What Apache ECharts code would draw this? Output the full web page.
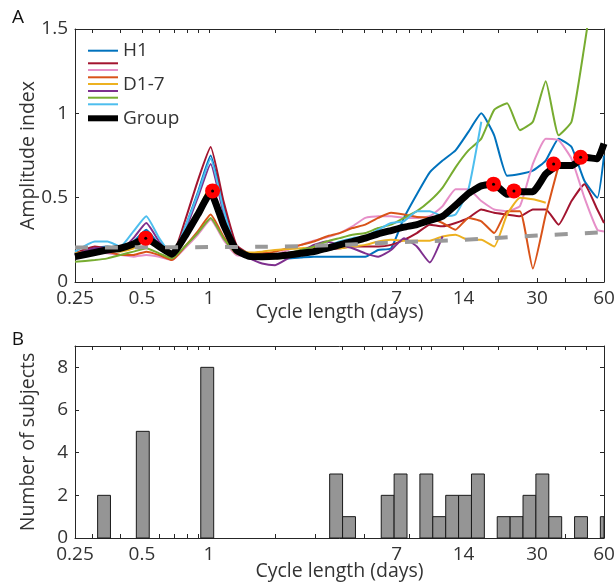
<!DOCTYPE html>
<html><head><meta charset="utf-8">
<script src="https://cdn.jsdelivr.net/npm/echarts@6/dist/echarts.min.js"></script>
<style>html,body{margin:0;padding:0;background:#fff}#c{width:616px;height:585px}</style>
</head><body><div id="c"></div>
<script>
// ---------- DATA ----------
const days = [0.25,0.307,0.350,0.400,0.458,0.523,0.598,0.683,0.780,0.892,1.019,1.164,1.331,1.522,1.738,1.987,2.271,2.596,2.967,3.390,3.874,4.428,5.060,5.783,6.609,7.553,8.632,9.865,11.27,12.89,14.73,16.83,19.23,21.98,25.12,28.71,32.81,37.50,42.86,48.98,55.98,60];

const groupVals = [0.15,0.175,0.19,0.20,0.225,0.26,0.21,0.165,0.27,0.40,0.53,0.34,0.19, 0.152,0.15,0.152,0.16,0.17,0.18,0.20,0.22,0.24, 0.26,0.285,0.305,0.325,0.34,0.365,0.39,0.455,0.525, 0.57,0.58,0.52,0.535,0.535,0.64,0.69,0.69,0.74,0.73,0.82];
const h1Vals = [0.17,0.20,0.21,0.20,0.24,0.31,0.22,0.15,0.32,0.53,0.75,0.45,0.19, 0.15,0.148,0.145,0.14,0.145,0.15,0.15,0.15,0.15, 0.15,0.19,0.20,0.38,0.52,0.65,0.72,0.78,0.89, 1.0,0.87,0.63,0.64,0.66,0.72,0.85,0.80,0.60,0.50,0.75];
const d1Vals = [0.17,0.21,0.20,0.20,0.22,0.27,0.21,0.16,0.36,0.60,0.80,0.48,0.22, 0.17,0.17,0.165,0.165,0.17,0.18,0.19,0.20,0.21, 0.21,0.21,0.22,0.25,0.29,0.34,0.33,0.35,0.38, 0.43,0.41,0.40,0.39,0.43,0.43,0.34,0.48,0.58,0.43,0.35];
const d2Vals = [0.16,0.18,0.17,0.16,0.15,0.16,0.15,0.13,0.20,0.28,0.37,0.25,0.16, 0.155,0.155,0.16,0.19,0.22,0.245,0.265,0.29,0.33, 0.38,0.39,0.39,0.38,0.38,0.39,0.45,0.55,0.55, 0.48,0.43,0.42,0.45,0.70,0.85,0.84,0.73,0.50,0.31,0.30];
const d3Vals = [0.16,0.18,0.18,0.16,0.16,0.18,0.16,0.13,0.21,0.30,0.40,0.27,0.17, 0.17,0.17,0.18,0.20,0.22,0.24,0.27,0.29,0.32, 0.34,0.38,0.41,0.40,0.385,0.38,0.35,0.31,0.38, 0.36,0.29,0.42,0.42,0.08,0.40,0.69,null,null,null,null];
const d4Vals = [0.17,0.19,0.19,0.18,0.20,0.25,0.20,0.15,0.27,0.42,0.57,0.36,0.20, 0.175,0.18,0.19,0.195,0.20,0.205,0.205,0.20,0.21, 0.22,0.24,0.25,0.245,0.245,0.245,0.27,0.28,0.25, 0.25,0.21,0.40,0.50,0.49,0.47,null,null,null,null,null];
const d5Vals = [0.16,0.20,0.20,0.19,0.26,0.35,0.24,0.15,0.30,0.50,0.70,0.41,0.18, 0.14,0.11,0.10,0.14,0.18,0.22,0.24,0.22,0.20, 0.17,0.15,0.19,0.26,0.21,0.115,0.27,null,null, null,null,null,null,null,null,null,null,null,null,null];
const d6Vals = [0.12,0.13,0.14,0.16,0.18,0.20,0.17,0.14,0.21,0.29,0.38,0.26,0.17, 0.16,0.155,0.16,0.17,0.19,0.21,0.24,0.26,0.28, 0.29,0.32,0.34,0.38,0.42,0.48,0.56,0.68,0.78, 0.85,1.02,1.06,0.90,0.95,1.19,0.87,0.95,1.40,1.9,2.1];
const d7Vals = [0.18,0.24,0.24,0.21,0.30,0.39,0.26,0.16,0.32,0.52,0.73,0.43,0.19, 0.155,0.155,0.16,0.17,0.18,0.19,0.21,0.24,0.26, 0.27,0.31,0.35,0.36,0.42,0.42,0.39,0.40,0.55, 0.95,null,null,null,null,null,null,null,null,null,null];

const threshDays = [0.25,1,3,7,14,30,60];
const threshVals = [0.205,0.207,0.215,0.235,0.25,0.275,0.295];

const peakDays = [0.52,1.04,19.1,23.6,35.6,47.1];
const peakVals = [0.26,0.54,0.58,0.54,0.70,0.74];

const binLo = [0.316,0.472,0.920,3.498,3.998,5.968,6.82,8.908,10.18,11.64,13.30,15.20,19.85,22.69,25.93,29.63,33.87,44.23,57.77];
const binHi = [0.361,0.5395,1.052,3.998,4.57,6.82,7.795,10.18,11.64,13.30,15.20,17.37,22.69,25.93,29.63,33.87,38.7,50.55,66.0];
const counts = [2,5,8,3,1,2,3,3,1,2,2,3,1,1,2,3,1,1,1];

const xLabelVals = [0.25,0.5,1,7,14,30,60];
const xTickVals = [0.25,0.3,0.4,0.5,0.6,0.7,0.8,0.9,1,2,3,4,5,6,7,8,9,10,14,20,30,40,50,60];
const yTicksA = [0,0.5,1,1.5];
const yTicksB = [0,2,4,6,8];

const subjNames = ['H1','D1','D2','D3','D4','D5','D6','D7'];
const subjVals = [h1Vals,d1Vals,d2Vals,d3Vals,d4Vals,d5Vals,d6Vals,d7Vals];
const subjColors = ['#0072BD','#A2142F','#E68FC8','#D95319','#EDB120','#7E2F8E','#77AC30','#4DBEEE'];

// ---------- CHART ----------
const FONT = '"Open Sans", sans-serif';
const TXT = '#333333';
const AX = '#262626';
const chart = echarts.init(document.getElementById('c'), null, {renderer:'canvas'});

function xAxisDef(grid, pos, withLabels) {
  return {
    gridIndex: grid, type: 'log', logBase: 10, min: 0.25, max: 60, position: pos,
    axisLine: {show: true, onZero: false, lineStyle: {color: AX, width: 1}},
    axisTick: {show: true, inside: true, length: 4, customValues: xTickVals, lineStyle: {color: AX, width: 1}},
    axisLabel: {show: withLabels, customValues: xLabelVals, formatter: v => String(v), margin: 7,
      color: TXT, fontSize: 19, fontFamily: FONT},
    splitLine: {show: false}, minorTick: {show: false},
    name: withLabels ? 'Cycle length (days)' : '', nameLocation: 'middle', nameMoveOverlap: false,
    nameGap: withLabels ? (grid === 0 ? 20 : 23.5) : 0,
    nameTextStyle: {color: TXT, fontSize: 19.5, fontFamily: FONT}
  };
}
function yAxisDef(grid, pos, withLabels, min, max, ticks, name) {
  return {
    gridIndex: grid, type: 'value', min: min, max: max, position: pos,
    axisLine: {show: true, onZero: false, lineStyle: {color: AX, width: 1}},
    axisTick: {show: true, inside: true, length: 4, customValues: ticks, lineStyle: {color: AX, width: 1}},
    axisLabel: {show: withLabels, customValues: ticks, formatter: v => String(v), margin: 7,
      color: TXT, fontSize: 19, fontFamily: FONT},
    splitLine: {show: false},
    name: withLabels ? name : '', nameLocation: 'middle', nameMoveOverlap: false, nameGap: 37,
    nameTextStyle: {color: TXT, fontSize: 19.5, fontFamily: FONT}
  };
}

const series = [];
subjNames.forEach((nm, k) => {
  series.push({
    name: nm, type: 'line', xAxisIndex: 0, yAxisIndex: 0,
    data: days.map((d, i) => [d, subjVals[k][i]]).filter(p => p[1] !== null),
    showSymbol: false, smooth: 0.15, clip: true, z: 2,
    lineStyle: {color: subjColors[k], width: 2}, itemStyle: {color: subjColors[k]},
    animation: false
  });
});
series.push({
  name: 'Group', type: 'line', xAxisIndex: 0, yAxisIndex: 0,
  data: days.map((d, i) => [d, groupVals[i]]),
  showSymbol: false, smooth: 0.15, clip: true, z: 3,
  lineStyle: {color: '#000', width: 7}, animation: false
});
series.push({
  name: 'threshold', type: 'line', xAxisIndex: 0, yAxisIndex: 0,
  data: threshDays.map((d, i) => [d, threshVals[i]]),
  showSymbol: false, smooth: 0.4, clip: true, z: 4,
  lineStyle: {color: '#999999', width: 4, type: [13, 17]}, animation: false
});
series.push({
  name: 'peaks', type: 'scatter', xAxisIndex: 0, yAxisIndex: 0,
  data: peakDays.map((d, i) => [d, peakVals[i]]),
  symbol: 'circle', symbolSize: 15, itemStyle: {color: '#FF0000', opacity: 1}, z: 5, animation: false
});
series.push({
  name: 'peakdots', type: 'scatter', xAxisIndex: 0, yAxisIndex: 0,
  data: peakDays.map((d, i) => [d, peakVals[i]]),
  symbol: 'circle', symbolSize: 3, itemStyle: {color: '#000', opacity: 1}, z: 6, animation: false
});
series.push({
  name: 'hist', type: 'custom', xAxisIndex: 2, yAxisIndex: 2,
  dimensions: ['lo', 'hi', 'n'],
  encode: {x: [0, 1], y: 2},
  data: binLo.map((lo, i) => [lo, binHi[i], counts[i]]),
  renderItem: function (params, api) {
    const p0 = api.coord([api.value(0), api.value(2)]);
    const p1 = api.coord([api.value(1), 0]);
    const cs = params.coordSys;
    const shape = echarts.graphic.clipRectByRect(
      {x: p0[0], y: p0[1], width: p1[0] - p0[0], height: p1[1] - p0[1]},
      {x: cs.x, y: cs.y, width: cs.width, height: cs.height});
    return shape && {type: 'rect', shape: shape, style: {fill: '#959595', stroke: '#1a1a1a', lineWidth: 1}};
  },
  animation: false, z: 2
});

// legend drawn as graphic
const legY = [50.7, 63.3, 70, 77.3, 84, 91, 97.7, 104.3];
const graphics = [];
subjColors.forEach((c, k) => {
  graphics.push({type: 'line', shape: {x1: 88, y1: legY[k], x2: 118, y2: legY[k]}, style: {stroke: c, lineWidth: 2}, z: 100});
});
graphics.push({type: 'line', shape: {x1: 88, y1: 118.3, x2: 118, y2: 118.3}, style: {stroke: '#000', lineWidth: 6}, z: 100});
[['H1', 50.7], ['D1-7', 85], ['Group', 119]].forEach(t => {
  graphics.push({type: 'text', x: 123, y: t[1], style: {text: t[0], fill: TXT, fontSize: 19, fontFamily: FONT, verticalAlign: 'middle', align: 'left'}, z: 100});
});
graphics.push({type: 'text', x: 18, y: 18, style: {text: 'A', fill: '#111', fontSize: 19, fontFamily: FONT, verticalAlign: 'middle', align: 'center'}});
graphics.push({type: 'text', x: 18, y: 340, style: {text: 'B', fill: '#111', fontSize: 19, fontFamily: FONT, verticalAlign: 'middle', align: 'center'}});

chart.setOption({
  animation: false,
  backgroundColor: '#fff',
  grid: [
    {left: 75, right: 12, top: 29, height: 253, containLabel: false, outerBoundsMode: 'none', show: false},
    {left: 75, right: 12, top: 346, height: 192, containLabel: false, outerBoundsMode: 'none', show: false}
  ],
  xAxis: [xAxisDef(0, 'bottom', true), xAxisDef(0, 'top', false), xAxisDef(1, 'bottom', true), xAxisDef(1, 'top', false)],
  yAxis: [
    yAxisDef(0, 'left', true, 0, 1.5, yTicksA, 'Amplitude index'),
    yAxisDef(0, 'right', false, 0, 1.5, yTicksA, ''),
    yAxisDef(1, 'left', true, 0, 9, yTicksB, 'Number of subjects'),
    yAxisDef(1, 'right', false, 0, 9, yTicksB, '')
  ],
  graphic: graphics,
  series: series
});
</script></body></html>
